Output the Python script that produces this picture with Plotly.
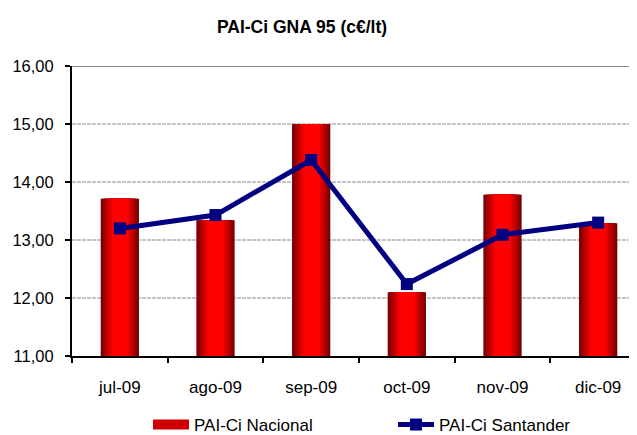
import plotly.graph_objects as go

months = ["jul-09", "ago-09", "sep-09", "oct-09", "nov-09", "dic-09"]
nacional = [13.71, 13.34, 15.00, 12.10, 13.78, 13.29]
santander = [13.20, 13.43, 14.38, 12.24, 13.09, 13.30]
y_ticks = [11, 12, 13, 14, 15, 16]
title_text = "PAI-Ci GNA 95 (c€/lt)"

FONT = "Liberation Sans, Arial, sans-serif"
# the page body has an 8px default margin; size the figure so it ends at the window edge
OFF = 8
W, H = 637 - OFF, 435 - OFF

fig = go.Figure()

# simulated horizontal gradient: overlay bars of decreasing width, brighter toward centre
N = 10
dark = (0x78, 0x00, 0x00)
bright = (0xFF, 0x00, 0x00)
for k in range(N):
    t = k / (N - 1)
    c = tuple(int(dark[i] + (bright[i] - dark[i]) * t) for i in range(3))
    w = 0.40 * (1 - 0.6 * k / (N - 1))
    fig.add_trace(go.Bar(
        x=months, y=[v - 11 for v in nacional], base=11,
        width=w, marker=dict(color="rgb(%d,%d,%d)" % c, line=dict(width=0)),
        name="PAI-Ci Nacional", showlegend=False, hoverinfo="skip",
    ))
# legend entry for bars (wide red swatch)
fig.add_trace(go.Scatter(
    x=[months[0]], y=[None], mode="lines", name="PAI-Ci Nacional",
    line=dict(color="#d00000", width=10), showlegend=True, legend="legend",
))

fig.add_trace(go.Scatter(
    x=months, y=santander, mode="lines+markers", name="PAI-Ci Santander",
    line=dict(color="#000080", width=5),
    marker=dict(symbol="square", size=12, color="#000080"),
    legend="legend2",
))

fig.add_shape(type="line", xref="paper", yref="y", x0=0, x1=1,
              y0=max(y_ticks), y1=max(y_ticks),
              line=dict(color="#8c8c8c", width=2), layer="below")

leg_common = dict(orientation="h", xref="container", yref="container",
                  y=1 - (425 - OFF) / H, xanchor="left", yanchor="middle",
                  font=dict(family=FONT, size=17, color="black"),
                  itemwidth=36, bgcolor="rgba(0,0,0,0)", borderwidth=0,
                  tracegroupgap=0)

fig.update_layout(
    width=W, height=H,
    margin=dict(l=72 - OFF, r=0, t=66 - OFF, b=435 - 356, autoexpand=False),
    paper_bgcolor="white", plot_bgcolor="white",
    barmode="overlay",
    separators=",.",
    font=dict(family=FONT, size=16, color="black"),
    title=dict(text=title_text, x=(302 - OFF) / W, xanchor="center", y=1 - (27 - OFF) / H,
               yanchor="middle", font=dict(family=FONT, size=17.5, color="black", weight="bold")),
    showlegend=True,
    legend=dict(x=(148 - OFF) / W, **leg_common),
    legend2=dict(x=(393 - OFF) / W, **leg_common),
    xaxis=dict(
        type="category", range=[-0.5, 5.406], automargin=False,
        showline=True, linecolor="black", linewidth=2,
        ticks="outside", ticklen=5, tickwidth=2, tickcolor="black",
        tickson="boundaries", showgrid=False,
        tickfont=dict(family=FONT, size=17, color="black"),
        ticklabelstandoff=15,
    ),
    yaxis=dict(
        range=[11, 16], tickvals=y_ticks, tickformat=".2f", automargin=False,
        showline=True, linecolor="black", linewidth=2,
        ticks="outside", ticklen=5, tickwidth=2, tickcolor="black",
        showgrid=True, gridcolor="#c4c4c4", gridwidth=2, griddash="4px,1px",
        zeroline=False,
        tickfont=dict(family=FONT, size=16.5, color="black"),
        ticklabelstandoff=8,
    ),
)

fig.write_html("out.html")
